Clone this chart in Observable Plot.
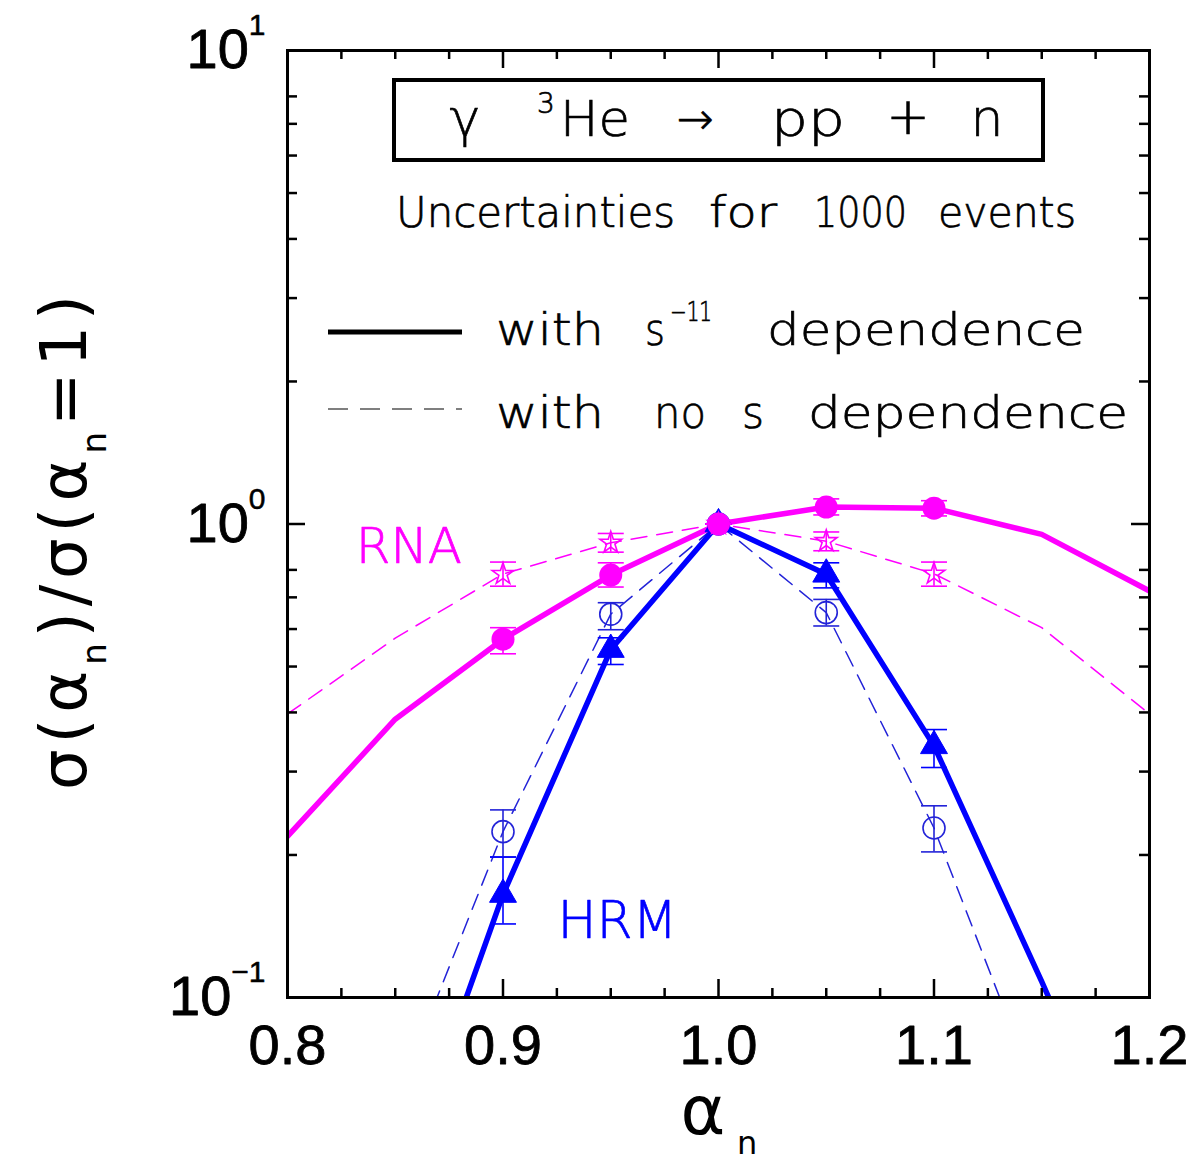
<!DOCTYPE html>
<html>
<head>
<meta charset="utf-8">
<script src="https://cdn.jsdelivr.net/npm/d3@7"></script>
<script src="https://cdn.jsdelivr.net/npm/@observablehq/plot@0.6"></script>
<style>
  html, body { margin: 0; padding: 0; background: #fff; }
  #chart svg { display: block; }
</style>
</head>
<body>
<div id="chart"></div>
<script>
// ---------------- data ----------------
// curves: sigma(alpha_n)/sigma(alpha_n = 1)
const alpha      = [0.80, 0.85, 0.90, 0.95, 1.00, 1.05, 1.10, 1.15, 1.20];
const rnaS11     = [0.219, 0.387, 0.571, 0.780, 1.000, 1.086, 1.080, 0.951, 0.722];
const rnaNoS     = [0.397, 0.574, 0.784, 0.913, 1.000, 0.920, 0.785, 0.604, 0.397];
const hrmAlpha   = [0.85, 0.90, 0.95, 1.00, 1.05, 1.10, 1.15, 1.20];
const hrmS11     = [0.038, 0.165, 0.543, 1.000, 0.783, 0.340, 0.108, 0.033];
const hrmNoS     = [0.060, 0.224, 0.645, 1.000, 0.650, 0.228, 0.059, 0.016];

// simulated points with uncertainties for 1000 events
const ptAlpha    = [0.90, 0.95, 1.00, 1.05, 1.10];
const rnaS11Pt   = [0.571, 0.780, 1.000, 1.086, 1.080];
const rnaS11Lo   = [0.532, 0.736, 1.000, 1.045, 1.040];
const rnaS11Hi   = [0.604, 0.828, 1.000, 1.130, 1.120];
const rnaNoSPt   = [0.784, 0.913, 1.000, 0.920, 0.785];
const rnaNoSLo   = [0.739, 0.872, 1.000, 0.878, 0.739];
const rnaNoSHi   = [0.831, 0.955, 1.000, 0.962, 0.831];
const hrmS11Pt   = [0.165, 0.543, 1.000, 0.783, 0.340];
const hrmS11Lo   = [0.143, 0.505, 1.000, 0.733, 0.306];
const hrmS11Hi   = [0.198, 0.575, 1.000, 0.828, 0.368];
const hrmNoSPt   = [0.224, 0.645, 1.000, 0.650, 0.228];
const hrmNoSLo   = [0.198, 0.598, 1.000, 0.609, 0.203];
const hrmNoSHi   = [0.249, 0.682, 1.000, 0.693, 0.254];

// axes
const xMajor     = [0.8, 0.9, 1.0, 1.1, 1.2];
const xMinor     = [0.825, 0.85, 0.875, 0.925, 0.95, 0.975, 1.025, 1.05, 1.075, 1.125, 1.15, 1.175];
const xTickText  = ["0.8", "0.9", "1.0", "1.1", "1.2"];
const yMajor     = [0.1, 1, 10];
const yMinor     = [0.2, 0.3, 0.4, 0.5, 0.6, 0.7, 0.8, 2, 3, 4, 5, 6, 7, 8];
const yTickExp   = ["\u22121", "0", "1"];

// annotation labels (data coordinates)
const rnaLabel   = [{text: "RNA", a: 0.8563, v: 0.827}];
const hrmLabel   = [{text: "HRM", a: 0.9531, v: 0.1334}];

// ---------------- layout / style ----------------
const W = 1194, H = 1165;
const mL = 287, mR = 45, mT = 50, mB = 168;
const iW = W - mL - mR, iH = H - mT - mB;
const magenta = "#ff00ff", blue = "#0000ff", blueThin = "#2323d8";
const tickFont = "'Liberation Sans', Arial, sans-serif";
const thinFont = "'DejaVu Sans', sans-serif";

const rows = (xs, ys) => xs.map((x, i) => ({x, y: ys[i]}));
const pts = (ys, lo, hi) => ptAlpha.map((x, i) => ({x, y: ys[i], lo: lo[i], hi: hi[i]}));
const cap = {draw(ctx) { ctx.moveTo(-13, 0); ctx.lineTo(13, 0); }};

function errMarks(data, color) {
  return [
    Plot.ruleX(data, {x: "x", y1: "lo", y2: "hi", stroke: color, strokeWidth: 1.6}),
    Plot.dot(data, {x: "x", y: "lo", symbol: cap, stroke: color, strokeWidth: 1.6, fill: "none"}),
    Plot.dot(data, {x: "x", y: "hi", symbol: cap, stroke: color, strokeWidth: 1.6, fill: "none"})
  ];
}

const rnaS11Data = pts(rnaS11Pt, rnaS11Lo, rnaS11Hi);
const rnaNoSData = pts(rnaNoSPt, rnaNoSLo, rnaNoSHi);
const hrmS11Data = pts(hrmS11Pt, hrmS11Lo, hrmS11Hi);
const hrmNoSData = pts(hrmNoSPt, hrmNoSLo, hrmNoSHi);

const chart = Plot.plot({
  width: W, height: H,
  marginLeft: mL, marginRight: mR, marginTop: mT, marginBottom: mB,
  x: {domain: [0.8, 1.2], axis: null},
  y: {type: "log", domain: [0.1, 10], axis: null},
  style: {background: "#fff"},
  marks: [
    // dashed curves (no s dependence)
    Plot.line(rows(alpha, rnaNoS), {x: "x", y: "y", stroke: magenta, strokeWidth: 1.5, strokeDasharray: "16,10", clip: true}),
    Plot.line(rows(hrmAlpha, hrmNoS), {x: "x", y: "y", stroke: blueThin, strokeWidth: 1.5, strokeDasharray: "16,10", clip: true}),
    // solid curves (s^-11 dependence)
    Plot.line(rows(hrmAlpha, hrmS11), {x: "x", y: "y", stroke: blue, strokeWidth: 5.5, clip: true}),
    Plot.line(rows(alpha, rnaS11), {x: "x", y: "y", stroke: magenta, strokeWidth: 5.5, clip: true}),
    // HRM points
    ...errMarks(hrmNoSData, blueThin),
    Plot.dot(hrmNoSData, {x: "x", y: "y", r: 11, stroke: blueThin, strokeWidth: 1.6, fill: "none"}),
    ...errMarks(hrmS11Data, blue),
    Plot.dot(hrmS11Data, {x: "x", y: "y", r: 10, symbol: "triangle", fill: blue, stroke: blue, strokeWidth: 1}),
    // RNA points
    ...errMarks(rnaNoSData, magenta),
    Plot.dot(rnaNoSData, {x: "x", y: "y", r: 6.8, symbol: "star", stroke: magenta, strokeWidth: 1.6, fill: "none"}),
    ...errMarks(rnaS11Data, magenta),
    Plot.dot(rnaS11Data, {x: "x", y: "y", r: 11.5, fill: magenta}),
    // model labels
    Plot.text(rnaLabel, {x: "a", y: "v", text: "text", fill: magenta, stroke: magenta, strokeWidth: 0.7, fontSize: 50, fontFamily: thinFont, fontWeight: 200, lineAnchor: "bottom"}),
    Plot.text(hrmLabel, {x: "a", y: "v", text: "text", fill: blue, stroke: blue, strokeWidth: 0.7, fontSize: 52, fontFamily: thinFont, fontWeight: 200, lineAnchor: "bottom"}),
    // frame + inward ticks on all four sides
    Plot.tickX(xMinor, {x: d => d, insetTop: iH - 9, stroke: "#000", strokeWidth: 2.5}),
    Plot.tickX(xMinor, {x: d => d, insetBottom: iH - 9, stroke: "#000", strokeWidth: 2.5}),
    Plot.tickX(xMajor, {x: d => d, insetTop: iH - 18, stroke: "#000", strokeWidth: 2.5}),
    Plot.tickX(xMajor, {x: d => d, insetBottom: iH - 18, stroke: "#000", strokeWidth: 2.5}),
    Plot.tickY(yMinor, {y: d => d, insetRight: iW - 10, stroke: "#000", strokeWidth: 2.5}),
    Plot.tickY(yMinor, {y: d => d, insetLeft: iW - 10, stroke: "#000", strokeWidth: 2.5}),
    Plot.tickY(yMajor, {y: d => d, insetRight: iW - 18, stroke: "#000", strokeWidth: 2.5}),
    Plot.tickY(yMajor, {y: d => d, insetLeft: iW - 18, stroke: "#000", strokeWidth: 2.5}),
    Plot.frame({stroke: "#000", strokeWidth: 3}),
    // tick labels
    Plot.text(xMajor, {x: d => d, frameAnchor: "bottom", lineAnchor: "bottom", dy: 66,
      text: (d, i) => xTickText[i], fontSize: 56, fontFamily: tickFont, fill: "#000", stroke: "#000", strokeWidth: 0.8}),
    Plot.text(yMajor, {y: d => d, frameAnchor: "left", textAnchor: "end", dx: -22,
      text: (d, i) => "10^" + yTickExp[i], fontSize: 56, fontFamily: tickFont, fill: "#000", stroke: "#000", strokeWidth: 0.8})
  ]
});

document.getElementById("chart").appendChild(chart);

// superscripts for the y tick labels
const s = d3.select(chart);
s.selectAll("text").filter(function() { return this.textContent.indexOf("^") >= 0; }).each(function() {
  const parts = this.textContent.split("^");
  this.textContent = parts[0];
  d3.select(this).append("tspan").attr("dy", -33).attr("font-size", 30).attr("stroke-width", 0.5).text(parts[1]);
});

// ---------------- title box, note and legend ----------------
const g = s.append("g").attr("font-family", thinFont).attr("font-weight", 200).attr("fill", "#000")
  .attr("stroke", "#000").attr("stroke-width", 0.7).attr("text-anchor", "start");
function word(str, x0, x1, y, size, anchor) {
  const t = g.append("text").attr("x", x0).attr("y", y).attr("font-size", size)
    .attr("text-anchor", anchor || "start").text(str);
  if (x1 != null) t.attr("textLength", x1 - x0).attr("lengthAdjust", "spacingAndGlyphs");
  return t;
}
g.append("rect").attr("x", 394).attr("y", 80).attr("width", 649).attr("height", 80)
  .attr("fill", "none").attr("stroke", "#000").attr("stroke-width", 4);
word("\u03b3", 465, null, 136, 52, "middle");
word("3", 546, null, 113, 28, "middle");
word("He", 560, 630, 136, 50);
word("\u2192", 695, null, 134, 44, "middle");
word("pp", 771, 845, 136, 50);
word("+", 908, null, 134, 52, "middle");
word("n", 987, null, 136, 52, "middle");

word("Uncertainties", 396, 675, 227, 42);
word("for", 709, 777, 227, 42);
word("1000", 814, 907, 227, 42);
word("events", 938, 1076, 227, 42);

g.append("line").attr("x1", 328).attr("x2", 462).attr("y1", 332).attr("y2", 332)
  .attr("stroke", "#000").attr("stroke-width", 5);
word("with", 496, 604, 345, 45);
word("s", 645, 665, 345, 45);
word("\u221211", 670, 712, 321, 27);
word("dependence", 767, 1085, 345, 45);

g.append("line").attr("x1", 328).attr("x2", 462).attr("y1", 409).attr("y2", 409)
  .attr("stroke", "#555").attr("stroke-width", 1.5).attr("stroke-dasharray", "20,12");
word("with", 496, 604, 428, 45);
word("no", 654, 706, 428, 45);
word("s", 742, 764, 428, 45);
word("dependence", 808, 1128, 428, 45);

// ---------------- axis titles ----------------
const yl = s.append("text").attr("transform", "translate(86,790) rotate(-90)")
  .attr("text-anchor", "start")
  .attr("font-family", thinFont).attr("font-size", 64).attr("fill", "#000")
  .attr("textLength", 495).attr("lengthAdjust", "spacing");
yl.append("tspan").text("\u03c3(\u03b1");
yl.append("tspan").attr("dy", 20).attr("font-size", 34).text("n");
yl.append("tspan").attr("dy", -20).text(")/\u03c3(\u03b1");
yl.append("tspan").attr("dy", 20).attr("font-size", 34).text("n");
yl.append("tspan").attr("dy", -20).text("=1)");

s.append("text").attr("x", 703).attr("y", 1134).attr("text-anchor", "middle")
  .attr("font-family", thinFont).attr("font-size", 68).attr("fill", "#000").text("\u03b1");
s.append("text").attr("x", 737).attr("y", 1154).attr("text-anchor", "start")
  .attr("font-family", thinFont).attr("font-size", 32).attr("fill", "#000").text("n");
</script>
</body>
</html>
